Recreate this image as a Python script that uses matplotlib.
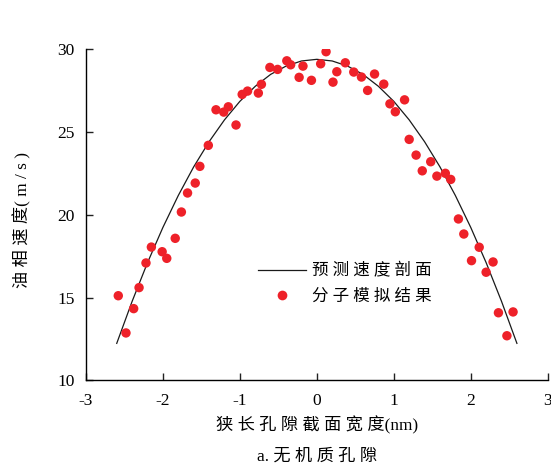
import matplotlib
matplotlib.use('Agg')
import matplotlib.pyplot as plt
from matplotlib.lines import Line2D

plt.rcParams['font.family'] = ['Liberation Serif', 'Noto Sans CJK SC']

# simulated points (nm, m/s)
sim_x = [-2.48, -2.58, -2.38, -2.31, -2.22, -2.15, -2.01, -1.95, -1.84, -1.76,
         -1.68, -1.58, -1.52, -1.41, -1.31, -1.21, -1.15, -1.05, -0.97, -0.90,
         -0.76, -0.72, -0.61, -0.51, -0.39, -0.34, -0.23, -0.18, -0.07, 0.05,
         0.12, 0.21, 0.26, 0.37, 0.48, 0.58, 0.66, 0.75, 0.87, 0.95,
         1.02, 1.14, 1.20, 1.29, 1.37, 1.48, 1.56, 1.67, 1.74, 1.84,
         1.91, 2.01, 2.11, 2.20, 2.29, 2.36, 2.47, 2.55]
sim_v = [12.86, 15.11, 14.33, 15.60, 17.09, 18.05, 17.77, 17.37, 18.58, 20.17,
         21.32, 21.92, 22.93, 24.20, 26.35, 26.21, 26.53, 25.43, 27.28, 27.48,
         27.36, 27.89, 28.91, 28.79, 29.31, 29.07, 28.31, 28.99, 28.13, 29.13,
         29.86, 28.02, 28.65, 29.19, 28.63, 28.33, 27.52, 28.51, 27.90, 26.71,
         26.23, 26.95, 24.56, 23.61, 22.66, 23.21, 22.34, 22.51, 22.14, 19.75,
         18.84, 17.23, 18.04, 16.53, 17.15, 14.08, 12.69, 14.13]

# predicted profile
curve_x = [-2.6, -2.4, -2.2, -2.0, -1.8, -1.6, -1.4, -1.2, -1.0, -0.8, -0.6, -0.4, -0.2, 0.0,
           0.2, 0.4, 0.6, 0.8, 1.0, 1.2, 1.4, 1.6, 1.8, 2.0, 2.2, 2.4, 2.6]
curve_v = [12.23, 14.77, 17.11, 19.24, 21.17, 22.90, 24.42, 25.74, 26.86, 27.77, 28.49, 28.99, 29.30, 29.40,
           29.30, 28.99, 28.49, 27.77, 26.86, 25.74, 24.42, 22.90, 21.17, 19.24, 17.11, 14.77, 12.23]

xticks = [-3, -2, -1, 0, 1, 2, 3]
yticks = [10, 15, 20, 25, 30]

fig = plt.figure(figsize=(5.51, 4.66), dpi=100)
ax = fig.add_axes([0.156, 0.184, 0.838, 0.710])

ax.plot(curve_x, curve_v, color='#1a1a1a', lw=0.9)
ax.scatter(sim_x, sim_v, s=46, color='#ee2129', edgecolors='none', zorder=3)

ax.set_xlim(-3, 3)
ax.set_ylim(10, 30)
ax.set_xticks(xticks)
ax.set_xticklabels(['-3', '-2', '-1', '0', '1', '2', '3'])
ax.set_yticks(yticks)
ax.spines['top'].set_visible(False)
ax.spines['right'].set_visible(False)
for s in ['left', 'bottom']:
    ax.spines[s].set_linewidth(1.0)
ax.tick_params(direction='in', length=5, width=1.0, labelsize=12.5, color='#222222')
ax.tick_params(axis='x', pad=9)
ax.tick_params(axis='y', pad=8)

handles = [Line2D([0], [0], color='#1a1a1a', lw=0.9),
           Line2D([0], [0], marker='o', ls='none', markersize=7, color='#ee2129', markeredgewidth=0)]
ax.legend(handles, ['预 测 速 度 剖 面', '分 子 模 拟 结 果'], loc='center left',
          bbox_to_anchor=(0.372, 0.29), frameon=False, fontsize=11.9,
          handlelength=2.9, handletextpad=0.4, labelspacing=0.55,
          borderpad=0, borderaxespad=0)

fig.text(0.575, 1 - 425 / 466, '狭 长 孔 隙 截 面 宽 度(nm)', ha='center', va='center', fontsize=12.4)
fig.text(0.575, 1 - 457 / 466, 'a. 无 机 质 孔 隙', ha='center', va='center', fontsize=12.4)
fig.text(22.5 / 551, 1 - 220 / 466, '油 相 速 度( m / s )', ha='center', va='center',
         rotation=90, fontsize=12.4)

fig.savefig('out.png', dpi=100)
